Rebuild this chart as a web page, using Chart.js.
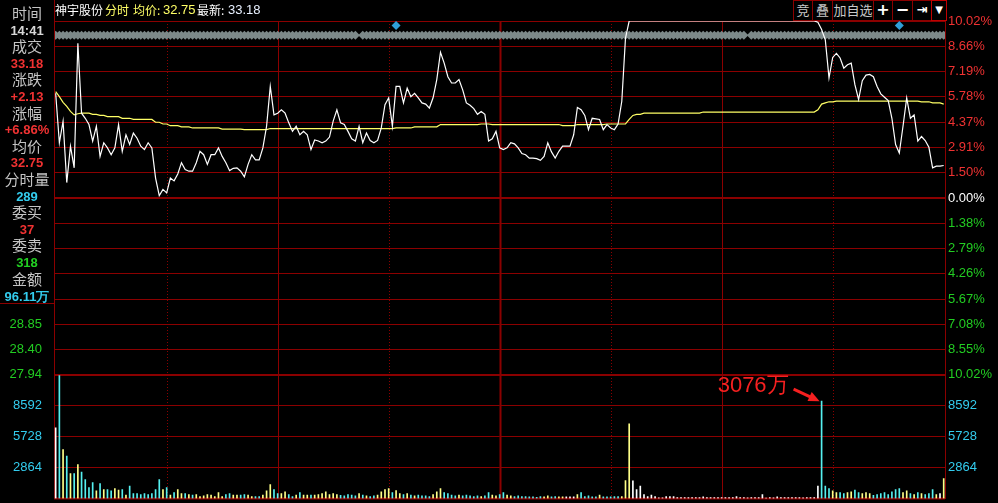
<!DOCTYPE html>
<html>
<head>
<meta charset="utf-8">
<title>神宇股份 分时</title>
<script src="https://cdn.jsdelivr.net/npm/chart.js"></script>
<style>
  body { margin: 0; background: #000; width: 998px; height: 503px; overflow: hidden; position: relative; font-family: "Liberation Sans", Arial, sans-serif; }
  #chart { position: absolute; left: 0; top: 0; }
  .info { position: absolute; left: 0; top: 0; width: 55px; height: 304px; box-sizing: border-box; border-right: 1px solid #8b0000; border-bottom: 1px solid #8b0000; background: #000; padding-top: 5px; }
  .row { height: 16.6px; line-height: 16.6px; text-align: center; white-space: nowrap; position: relative; }
  .lab { font: 15px "Noto Sans CJK SC", sans-serif; color: #c4c4c4; top: -3px; }
  .val { font: bold 13px "Liberation Sans", Arial, sans-serif; top: 1px; }
  .red { color: #f03232; } .cyan { color: #33ccee; } .green { color: #22d022; } .grey { color: #d8d8d8; }
  .title span { position: absolute; top: 2px; font-size: 12px; line-height: 16px; white-space: nowrap; }
  .cjk { font-family: "Noto Sans CJK SC", sans-serif; }
  .num { font-family: "Liberation Sans", Arial, sans-serif; font-size: 13px !important; }
  .btn { position: absolute; top: 0; height: 21px; box-sizing: border-box; border: 1px solid #8b0000; color: #c8c8c8; font: 13px "Noto Sans CJK SC", sans-serif; line-height: 18px; text-align: center; background: #000; white-space: nowrap; overflow: hidden; }
  .btn.sym { color: #fff; font: bold 16px "DejaVu Sans", sans-serif; line-height: 18px; }
</style>
</head>
<body>
<canvas id="chart" width="998" height="503"></canvas>

<div class="title">
  <span class="cjk" style="left:55px;color:#fff">神宇股份</span>
  <span class="cjk" style="left:105px;color:#ffff66">分时</span>
  <span class="cjk" style="left:133px;color:#ffff66">均价:</span>
  <span class="num" style="left:163px;color:#ffff66">32.75</span>
  <span class="cjk" style="left:197px;color:#fff">最新:</span>
  <span class="num" style="left:228px;color:#e8f0ff">33.18</span>
</div>

<div class="btn" style="left:793px;width:20px">竞</div>
<div class="btn" style="left:812px;width:21px">叠</div>
<div class="btn" style="left:832px;width:42px">加自选</div>
<div class="btn sym" style="left:873px;width:20px">+</div>
<div class="btn sym" style="left:892px;width:21px">−</div>
<div class="btn sym" style="left:912px;width:20px;font-size:13px">⇥</div>
<div class="btn sym" style="left:931px;width:16px;border-color:#c00000;font-size:10px">▼</div>

<div class="info">
  <div class="row lab">时间</div>
  <div class="row val grey">14:41</div>
  <div class="row lab">成交</div>
  <div class="row val red">33.18</div>
  <div class="row lab">涨跌</div>
  <div class="row val red">+2.13</div>
  <div class="row lab">涨幅</div>
  <div class="row val red">+6.86%</div>
  <div class="row lab">均价</div>
  <div class="row val red">32.75</div>
  <div class="row lab">分时量</div>
  <div class="row val cyan">289</div>
  <div class="row lab">委买</div>
  <div class="row val red">37</div>
  <div class="row lab">委卖</div>
  <div class="row val green">318</div>
  <div class="row lab">金额</div>
  <div class="row val cyan">96.11万</div>
</div>

<script>
// one value per minute, 9:30 .. 11:30 then 13:01 .. 15:00 (241 points)
const prices = [
  32.89, 32.02, 32.40, 31.32, 31.96, 31.58, 33.77, 32.54, 32.45, 32.34,
  32.05, 32.31, 31.78, 32.02, 31.93, 31.81, 31.93, 32.34, 31.87, 32.16,
  31.99, 32.19, 32.10, 31.96, 31.90, 32.02, 31.93, 31.40, 31.09, 31.20,
  31.14, 31.40, 31.35, 31.47, 31.67, 31.55, 31.52, 31.52, 31.67, 31.87,
  31.81, 31.64, 31.81, 31.81, 31.93, 31.78, 31.67, 31.53, 31.57, 31.58,
  31.52, 31.42, 31.64, 31.81, 31.72, 31.72, 31.93, 32.31, 33.01, 32.51,
  32.54, 32.60, 32.54, 32.37, 32.22, 32.31, 32.16, 32.22, 32.16, 31.90,
  32.07, 32.05, 32.02, 32.05, 32.12, 32.40, 32.60, 32.37, 32.34, 32.22,
  32.09, 32.05, 32.31, 32.02, 32.19, 32.06, 32.02, 32.06, 32.28, 32.69,
  32.81, 32.31, 33.01, 33.01, 32.72, 32.98, 32.83, 32.89, 32.81, 32.72,
  32.70, 32.63, 32.81, 33.13, 33.61, 33.42, 33.18, 33.07, 33.07, 33.13,
  32.95, 32.72, 32.68, 32.62, 32.52, 32.57, 32.52, 32.05, 32.09, 32.22,
  31.93, 31.90, 31.93, 32.02, 32.00, 31.93, 31.83, 31.81, 31.75, 31.75,
  31.74, 31.71, 31.78, 32.02, 31.86, 31.75, 31.87, 31.96, 31.96, 31.96,
  32.16, 32.64, 32.60, 32.50, 32.25, 32.45, 32.44, 32.43, 32.25, 32.34,
  32.28, 32.25, 32.35, 32.75, 33.86, 34.16, 34.16, 34.16, 34.16, 34.16,
  34.16, 34.16, 34.16, 34.16, 34.16, 34.16, 34.16, 34.16, 34.16, 34.16,
  34.16, 34.16, 34.16, 34.16, 34.16, 34.16, 34.16, 34.16, 34.16, 34.16,
  34.16, 34.16, 34.16, 34.16, 34.16, 34.16, 34.16, 34.16, 34.16, 34.16,
  34.16, 34.16, 34.16, 34.16, 34.16, 34.16, 34.16, 34.16, 34.16, 34.16,
  34.16, 34.16, 34.16, 34.16, 34.16, 34.16, 34.14, 34.01, 33.83, 33.16,
  33.52, 33.59, 33.51, 33.33, 33.39, 33.42, 33.04, 32.78, 33.11, 33.21,
  33.22, 33.18, 33.01, 32.88, 32.82, 32.76, 32.45, 31.99, 31.84, 32.31,
  32.81, 32.45, 32.51, 32.05, 32.13, 32.06, 31.94, 31.58, 31.61, 31.61,
  31.62
];

const avgPrices = [
  32.92, 32.83, 32.73, 32.66, 32.57, 32.51, 32.53, 32.54, 32.54, 32.54,
  32.52, 32.52, 32.50, 32.50, 32.48, 32.48, 32.48, 32.48, 32.45, 32.45,
  32.45, 32.43, 32.43, 32.43, 32.43, 32.43, 32.43, 32.38, 32.38, 32.35,
  32.35, 32.32, 32.32, 32.32, 32.30, 32.30, 32.30, 32.28, 32.28, 32.28,
  32.28, 32.28, 32.28, 32.28, 32.28, 32.26, 32.26, 32.26, 32.26, 32.26,
  32.26, 32.25, 32.25, 32.25, 32.25, 32.25, 32.25, 32.25, 32.27, 32.27,
  32.27, 32.27, 32.27, 32.27, 32.27, 32.27, 32.27, 32.27, 32.27, 32.27,
  32.27, 32.27, 32.27, 32.27, 32.27, 32.27, 32.27, 32.27, 32.27, 32.27,
  32.27, 32.27, 32.27, 32.27, 32.27, 32.27, 32.27, 32.27, 32.27, 32.27,
  32.27, 32.27, 32.28, 32.28, 32.28, 32.28, 32.28, 32.30, 32.30, 32.30,
  32.30, 32.30, 32.30, 32.30, 32.34, 32.34, 32.34, 32.34, 32.34, 32.34,
  32.34, 32.34, 32.34, 32.34, 32.34, 32.35, 32.35, 32.35, 32.34, 32.34,
  32.34, 32.34, 32.34, 32.34, 32.34, 32.34, 32.34, 32.34, 32.34, 32.34,
  32.34, 32.34, 32.34, 32.34, 32.34, 32.34, 32.34, 32.32, 32.32, 32.32,
  32.32, 32.34, 32.34, 32.34, 32.34, 32.34, 32.34, 32.34, 32.34, 32.35,
  32.35, 32.35, 32.35, 32.35, 32.35, 32.43, 32.50, 32.52, 32.52, 32.54,
  32.54, 32.54, 32.54, 32.54, 32.54, 32.54, 32.54, 32.54, 32.54, 32.54,
  32.54, 32.54, 32.54, 32.54, 32.54, 32.56, 32.56, 32.56, 32.56, 32.56,
  32.56, 32.56, 32.56, 32.56, 32.56, 32.56, 32.56, 32.56, 32.56, 32.56,
  32.56, 32.56, 32.56, 32.56, 32.56, 32.56, 32.56, 32.56, 32.56, 32.56,
  32.56, 32.56, 32.56, 32.56, 32.56, 32.56, 32.60, 32.70, 32.72, 32.74,
  32.74, 32.75, 32.75, 32.75, 32.75, 32.75, 32.75, 32.75, 32.75, 32.75,
  32.75, 32.75, 32.75, 32.75, 32.75, 32.75, 32.75, 32.75, 32.75, 32.75,
  32.75, 32.75, 32.75, 32.75, 32.74, 32.74, 32.74, 32.72, 32.72, 32.72,
  32.70
];

const volumes = [
  6560, 11400, 4530, 3940, 2310, 2310, 3140, 2460, 1760, 1020,
  1480, 710, 1390, 830, 830, 710, 920, 770, 830, 310,
  1140, 460, 460, 370, 460, 370, 460, 830, 1760, 830,
  1020, 310, 550, 830, 460, 460, 370, 310, 370, 180,
  250, 370, 310, 180, 550, 180, 370, 460, 310, 310,
  310, 370, 310, 180, 180, 180, 310, 710, 1290, 830,
  460, 460, 620, 370, 180, 310, 550, 310, 310, 310,
  310, 370, 460, 620, 370, 460, 370, 300, 250, 370,
  310, 250, 460, 310, 250, 180, 250, 310, 620, 830,
  920, 550, 740, 460, 370, 460, 310, 250, 310, 250,
  250, 180, 370, 620, 920, 550, 460, 310, 250, 310,
  250, 310, 250, 180, 250, 180, 250, 550, 310, 250,
  370, 550, 310, 250, 180, 250, 180, 180, 150, 150,
  120, 180, 150, 250, 150, 180, 150, 150, 150, 150,
  150, 370, 550, 180, 250, 150, 150, 310, 150, 150,
  150, 180, 180, 180, 1660, 6930, 1630, 830, 1140, 370,
  180, 310, 180, 60, 60, 180, 180, 180, 90, 90,
  90, 90, 90, 90, 90, 150, 90, 90, 90, 90,
  90, 90, 90, 90, 180, 90, 90, 60, 90, 90,
  90, 370, 30, 90, 60, 150, 90, 90, 90, 90,
  90, 90, 60, 90, 90, 90, 1140, 9020, 1140, 920,
  710, 550, 550, 460, 550, 620, 770, 550, 460, 550,
  460, 289, 370, 460, 550, 370, 620, 830, 920, 550,
  700, 460, 370, 550, 460, 370, 460, 830, 370, 460,
  1850
];

// u = up tick, d = down tick, f = flat
const volSide =
  'fdudududdd' + 'dududduudu' + 'dddddddddu' + 'duduududuu' + 'uuuuuudduu' +
  'dduudduuud' + 'duudduduud' + 'uuuuuuuddd' + 'ddududduuu' + 'uduudududd' +
  'dduuuddddu' + 'dddddudduu' + 'dduudddddd' + 'dduudduuff' + 'fudddddudd' +
  'ddduuuffff' + 'ffffffffff' + 'ffffffffff' + 'ffffffffff' + 'ffffffffff' +
  'fffffffddd' + 'uudduudduu' + 'uddddddddu' + 'udududdduf' + 'u';

const limitUp = 34.16;
const limitDown = 27.94;
const volMax = 11456;

const pctLabels = ['10.02%', '8.66%', '7.19%', '5.78%', '4.37%', '2.91%', '1.50%', '0.00%',
                   '1.38%', '2.79%', '4.26%', '5.67%', '7.08%', '8.55%', '10.02%'];
const leftPriceLabels = ['', '', '', '', '', '', '', '', '', '', '', '', '28.85', '28.40', '27.94'];
const volTickValues = [2864, 5728, 8592];

const timeLines = [30, 60, 90, 120, 150, 180, 210];
const stripGaps = [82, 187];
const flagMinutes = [92, 228];
const stripLevel = 33.91;
const flagLevel = 34.08;
const noteIndex = 207;
const noteText = '3076万';

const gridRed = '#8b0000';
const upRed = '#f03232';
const downGreen = '#22cc22';
const volCyan = '#33ccee';
const sideColors = { u: '#ffff88', d: '#55f0f0', f: '#ffffff' };

function fixBox(width) {
  return function(scale) {
    scale.width = width;
    scale.paddingTop = 0;
    scale.paddingBottom = 0;
  };
}

function priceTicks(scale) {
  const n = pctLabels.length - 1;
  const step = (scale.max - scale.min) / n;
  const ticks = [];
  for (let k = 0; k <= n; k++) ticks.push({ value: scale.min + k * step });
  scale.ticks = ticks;
}

function volTicks(scale) {
  scale.ticks = volTickValues.map(v => ({ value: v }));
}

function pctColor(ctx) {
  const k = pctLabels.length - 1 - ctx.index;
  if (k < 7) return upRed;
  if (k === 7) return '#ffffff';
  return downGreen;
}

const tickFont = { family: '"Liberation Sans", Arial, sans-serif', size: 13 };

const overlay = {
  id: 'overlay',
  beforeDatasetsDraw(chart) {
    const { ctx, chartArea, scales } = chart;
    ctx.save();
    ctx.strokeStyle = gridRed;
    timeLines.forEach((m, i) => {
      const x = Math.round(scales.x.getPixelForValue(m)) + 0.5;
      ctx.lineWidth = m === 120 ? 2 : 1;
      ctx.setLineDash(i % 2 === 0 ? [1, 2] : []);
      ctx.beginPath();
      ctx.moveTo(x, chartArea.top);
      ctx.lineTo(x, chartArea.bottom);
      ctx.stroke();
    });
    ctx.setLineDash([]);
    ctx.lineWidth = 2;
    ctx.beginPath();
    ctx.moveTo(chartArea.left, chartArea.bottom);
    ctx.lineTo(chartArea.right, chartArea.bottom);
    ctx.stroke();
    ctx.restore();
  },
  afterDatasetsDraw(chart) {
    const { ctx, scales } = chart;
    const px = scales.x.getPixelForValue(noteIndex);
    const py = scales.yV.getPixelForValue(volumes[noteIndex]);
    ctx.save();
    ctx.fillStyle = '#f52020';
    ctx.strokeStyle = '#f52020';
    ctx.font = '22px "Liberation Sans", Arial, sans-serif';
    ctx.textAlign = 'right';
    ctx.textBaseline = 'alphabetic';
    ctx.fillText(noteText, px - 33, py - 9);
    // arrow towards the bar top
    const x0 = px - 28, y0 = py - 12, x1 = px - 2, y1 = py;
    const ang = Math.atan2(y1 - y0, x1 - x0);
    ctx.lineWidth = 3;
    ctx.beginPath();
    ctx.moveTo(x0, y0);
    ctx.lineTo(x1 - 8 * Math.cos(ang), y1 - 8 * Math.sin(ang));
    ctx.stroke();
    ctx.beginPath();
    ctx.moveTo(x1, y1);
    ctx.lineTo(x1 - 11 * Math.cos(ang) + 5 * Math.sin(ang), y1 - 11 * Math.sin(ang) - 5 * Math.cos(ang));
    ctx.lineTo(x1 - 11 * Math.cos(ang) - 5 * Math.sin(ang), y1 - 11 * Math.sin(ang) + 5 * Math.cos(ang));
    ctx.closePath();
    ctx.fill();
    ctx.restore();
  }
};

document.addEventListener('DOMContentLoaded', function() {
  const stripPoints = [];
  for (let i = 0; i < prices.length; i++) {
    if (stripGaps.indexOf(i) < 0) stripPoints.push({ x: i, y: stripLevel });
  }

  new Chart(document.getElementById('chart'), {
    type: 'line',
    data: {
      datasets: [
        {
          label: '价格',
          data: prices.map((v, i) => ({ x: i, y: v })),
          yAxisID: 'yP',
          borderColor: '#ffffff',
          borderWidth: 1.2,
          pointRadius: 0,
          tension: 0,
          order: 1
        },
        {
          label: '均价',
          data: avgPrices.map((v, i) => ({ x: i, y: v })),
          yAxisID: 'yP',
          borderColor: '#ffff66',
          borderWidth: 1.2,
          pointRadius: 0,
          tension: 0,
          order: 2
        },
        {
          label: 'strip',
          data: stripPoints,
          yAxisID: 'yP',
          showLine: false,
          pointStyle: 'rectRot',
          pointRadius: 4.5,
          pointBorderWidth: 0,
          pointBackgroundColor: '#7d8989',
          order: 4
        },
        {
          label: 'flags',
          data: flagMinutes.map(m => ({ x: m, y: flagLevel })),
          yAxisID: 'yP',
          showLine: false,
          pointStyle: 'rectRot',
          pointRadius: 4.5,
          pointBorderWidth: 0,
          pointBackgroundColor: '#2f9fd8',
          clip: false,
          order: 0
        },
        {
          type: 'bar',
          label: '成交量',
          data: volumes.map((v, i) => ({ x: i, y: v })),
          yAxisID: 'yV',
          backgroundColor: volumes.map((v, i) => sideColors[volSide[i]] || '#ffffff'),
          barThickness: 1,
          order: 5
        }
      ]
    },
    options: {
      responsive: false,
      devicePixelRatio: 1,
      animation: false,
      layout: { padding: { top: 21, bottom: 3, left: 0, right: 0 } },
      plugins: { legend: { display: false }, tooltip: { enabled: false } },
      scales: {
        x: { type: 'linear', display: false, offset: false, bounds: 'ticks', min: -0.45, max: 240.35 },
        yP: {
          type: 'linear', position: 'right', stack: 'panel', stackWeight: 355,
          min: limitDown, max: limitUp,
          afterBuildTicks: priceTicks,
          afterFit: fixBox(53),
          border: { color: gridRed },
          grid: { color: gridRed, drawTicks: false, lineWidth: c => (c.index === 0 || c.index === 7) ? 2 : 1 },
          ticks: { padding: 3, autoSkip: false, font: tickFont, color: pctColor,
                   callback: (v, i) => pctLabels[pctLabels.length - 1 - i] }
        },
        yV: {
          type: 'linear', position: 'right', stack: 'panel', stackWeight: 124,
          min: 0, max: volMax,
          afterBuildTicks: volTicks,
          afterFit: fixBox(53),
          border: { color: gridRed },
          grid: { color: gridRed, drawTicks: false },
          ticks: { padding: 3, autoSkip: false, font: tickFont, color: volCyan, callback: v => String(v) }
        },
        // left side boxes are stacked in reverse order, so the volume axis comes first here
        yVL: {
          type: 'linear', position: 'left', stack: 'panel', stackWeight: 124,
          min: 0, max: volMax,
          afterBuildTicks: volTicks,
          afterFit: fixBox(54),
          border: { color: gridRed },
          grid: { display: false },
          ticks: { padding: 4, autoSkip: false, font: tickFont, color: volCyan, callback: v => String(v) }
        },
        yPL: {
          type: 'linear', position: 'left', stack: 'panel', stackWeight: 355,
          min: limitDown, max: limitUp,
          afterBuildTicks: priceTicks,
          afterFit: fixBox(54),
          border: { color: gridRed },
          grid: { display: false },
          ticks: { padding: 4, autoSkip: false, font: tickFont, color: downGreen,
                   callback: (v, i) => leftPriceLabels[leftPriceLabels.length - 1 - i] }
        }
      }
    },
    plugins: [overlay]
  });
});
</script>
</body>
</html>
